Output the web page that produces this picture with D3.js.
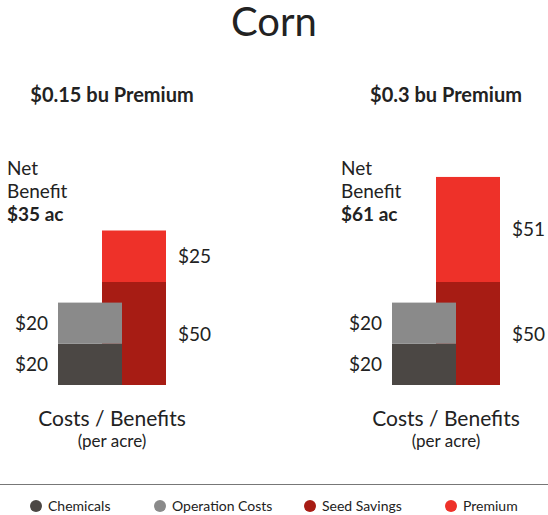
<!DOCTYPE html><html><head><meta charset="utf-8">
<script src="https://cdn.jsdelivr.net/npm/d3@7"></script>
<style>body{margin:0;background:#fff}text{font-family:Lato,"Open Sans",sans-serif;fill:#222}</style></head><body>
<svg id="c" width="548" height="515"></svg>
<script>
const panels=["$0.15 bu Premium","$0.3 bu Premium"];
const netBenefit=["$35 ac","$61 ac"];
const chemicals=[20,20];
const operation=[20,20];
const seedSavings=[50,50];
const premium=[25,51];
const legendLabels=["Chemicals","Operation Costs","Seed Savings","Premium"];
const colors=["#4b4744","#8a8a8a","#a71c14","#ee3129"];
const svg=d3.select("#c");
svg.append("text").attr("x",274).attr("y",36).attr("text-anchor","middle").attr("font-size",40).text("Corn");
const y=d3.scaleLinear().domain([0,100]).range([385,179]);
const offsets=[0,334];
panels.forEach((p,i)=>{
  const o=offsets[i];
  const g=svg.append("g").attr("transform",`translate(${o},0)`);
  g.append("text").attr("x",112).attr("y",102).attr("text-anchor","middle").attr("font-size",20).attr("font-weight","bold").text(p);
  g.append("text").attr("x",7).attr("y",175).attr("font-size",19).text("Net");
  g.append("text").attr("x",7).attr("y",198).attr("font-size",19).text("Benefit");
  g.append("text").attr("x",7).attr("y",221).attr("font-size",19).attr("font-weight","bold").text(netBenefit[i]);
  const costs=[chemicals[i],operation[i]], bens=[seedSavings[i],premium[i]];
  let acc=0;
  bens.forEach((v,k)=>{g.append("rect").attr("x",102).attr("width",64).attr("y",y(acc+v)).attr("height",y(acc)-y(acc+v)).attr("fill",colors[k+2]);
    g.append("text").attr("x",178).attr("y",(y(acc)+y(acc+v))/2+7).attr("font-size",19).text("$"+v);acc+=v;});
  acc=0;
  costs.forEach((v,k)=>{g.append("rect").attr("x",58).attr("width",64).attr("y",y(acc+v)).attr("height",y(acc)-y(acc+v)).attr("fill",colors[k]);
    g.append("text").attr("x",48).attr("y",(y(acc)+y(acc+v))/2+7).attr("text-anchor","end").attr("font-size",19).text("$"+v);acc+=v;});
  g.append("text").attr("x",112).attr("y",426).attr("text-anchor","middle").attr("font-size",21).text("Costs / Benefits");
  g.append("text").attr("x",112).attr("y",447).attr("text-anchor","middle").attr("font-size",17).text("(per acre)");
});
svg.append("line").attr("x1",0).attr("x2",548).attr("y1",484.5).attr("y2",484.5).attr("stroke","#777").attr("stroke-width",1);
const lx=[36,160,310,451];
legendLabels.forEach((l,k)=>{
  svg.append("circle").attr("cx",lx[k]).attr("cy",506).attr("r",6).attr("fill",colors[k]);
  svg.append("text").attr("x",lx[k]+12).attr("y",511).attr("font-size",14).text(l);
});
</script></body></html>
